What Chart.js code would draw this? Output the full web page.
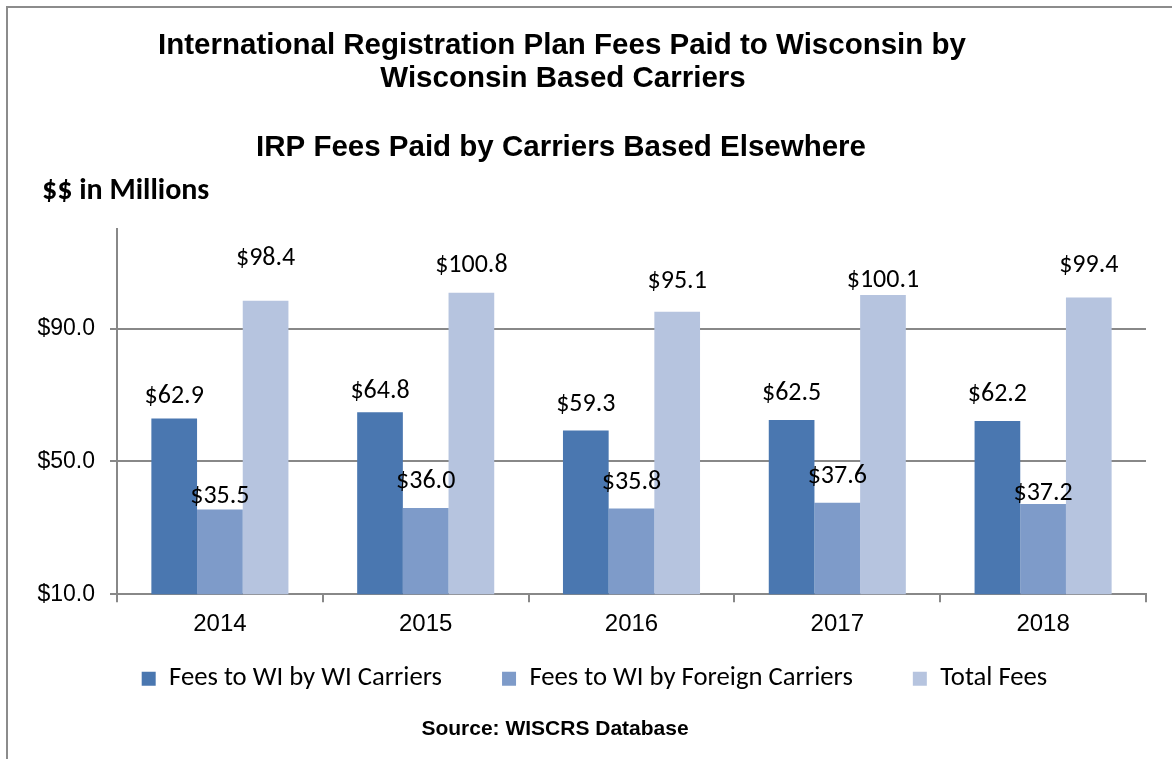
<!DOCTYPE html>
<html>
<head>
<meta charset="utf-8">
<title>IRP Fees</title>
<script src="https://cdn.jsdelivr.net/npm/chart.js@4.4.1/dist/chart.umd.min.js"></script>
<style>
    html, body { margin: 0; padding: 0; background: #fff; }
    #wrap { width: 1172px; height: 759px; }
</style>
</head>
<body>
<div id="wrap"><canvas id="myChart" width="1172" height="759"></canvas></div>
<script>
// 資料
var years = ['2014', '2015', '2016', '2017', '2018'];
var wiCarriers = [62.9, 64.8, 59.3, 62.5, 62.2];
var foreignCarriers = [35.5, 36.0, 35.8, 37.6, 37.2];
var totalFees = [98.4, 100.8, 95.1, 100.1, 99.4];
var seriesNames = ['Fees to WI by WI Carriers', 'Fees to WI by Foreign Carriers', 'Total Fees'];
var yTicks = [10, 50, 90];

var titleLines = ['International Registration Plan Fees Paid to Wisconsin by', 'Wisconsin Based Carriers'];
var subTitle = 'IRP Fees Paid by Carriers Based Elsewhere';
var unitLabel = '$$ in Millions';
var sourceText = 'Source: WISCRS Database';

// label distance above each bar top, px
var labelLift = [
    [23, 22, 27, 27, 27],
    [14, 27, 27, 27, 11],
    [43, 28, 31, 16, 33]
];

var colors = ['#4a77b0', '#7e9bc9', '#b6c4df'];
var ARIAL = '"Liberation Sans", Arial, sans-serif';
var CALIBRI = 'Carlito, Calibri, Lato, sans-serif';
var GRID = '#888888';

function money(v) {
    return '$' + v.toFixed(1);
}

// 標題, 邊框, 來源
var pageText = {
    id: 'pageText',
    afterLayout: function (chart) {
        // pull the legend up under the year labels
        var lg = chart.legend;
        var h = lg.bottom - lg.top;
        lg.top = chart.chartArea.bottom + 11;
        lg.bottom = lg.top + h;
    },
    beforeDraw: function (chart) {
        var ctx = chart.ctx;
        ctx.save();
        ctx.fillStyle = '#fff';
        ctx.fillRect(0, 0, chart.width, chart.height);
        ctx.strokeStyle = '#8c8c8c';
        ctx.lineWidth = 2;
        ctx.strokeRect(7, 7, chart.width + 20, chart.height + 20);

        ctx.fillStyle = '#000';
        ctx.textBaseline = 'alphabetic';
        ctx.textAlign = 'center';
        ctx.font = 'bold 29.5px ' + ARIAL;
        ctx.fillText(titleLines[0], 562, 54);
        ctx.fillText(titleLines[1], 563, 87);
        ctx.fillText(subTitle, 561, 156);

        ctx.textAlign = 'left';
        ctx.font = 'bold 30px ' + CALIBRI;
        ctx.fillText(unitLabel, 42, 199);

        ctx.textAlign = 'center';
        ctx.font = 'bold 21px ' + ARIAL;
        ctx.fillText(sourceText, 555, 735);
        ctx.restore();
    }
};

// 數值標籤
var barLabels = {
    id: 'barLabels',
    afterDatasetsDraw: function (chart) {
        var ctx = chart.ctx;
        ctx.save();
        ctx.fillStyle = '#000';
        ctx.font = '26px ' + CALIBRI;
        ctx.textAlign = 'center';
        ctx.textBaseline = 'middle';
        chart.data.datasets.forEach(function (ds, i) {
            chart.getDatasetMeta(i).data.forEach(function (bar, j) {
                ctx.fillText(money(ds.data[j]), bar.x, bar.y - labelLift[i][j] + 1);
            });
        });
        ctx.restore();
    }
};

var seriesData = [wiCarriers, foreignCarriers, totalFees];
var datasets = [];
for (var i = 0; i != seriesData.length; i++) {
    datasets.push({
        label: seriesNames[i],
        data: seriesData[i],
        backgroundColor: colors[i],
        borderWidth: 0,
        categoryPercentage: 0.666,
        barPercentage: 1.0
    });
}

var config = {
    type: 'bar',
    data: {
        labels: years,
        datasets: datasets
    },
    options: {
        responsive: false,
        animation: false,
        devicePixelRatio: 1,
        layout: {
            padding: { top: 229, left: 30, right: 13, bottom: 26 }
        },
        plugins: {
            title: { display: false },
            tooltip: { enabled: false },
            legend: {
                position: 'bottom',
                labels: {
                    boxWidth: 14,
                    boxHeight: 14,
                    padding: 60,
                    color: '#000',
                    font: { family: CALIBRI, size: 26.7 }
                }
            }
        },
        scales: {
            x: {
                grid: {
                    drawOnChartArea: false,
                    drawTicks: true,
                    tickLength: 8,
                    color: GRID,
                    lineWidth: 2
                },
                border: { color: GRID, width: 2 },
                ticks: {
                    color: '#000',
                    padding: 8,
                    font: { family: ARIAL, size: 24 }
                },
                afterFit: function (scale) {
                    scale.height = 42;
                }
            },
            y: {
                min: 10,
                max: 120,
                grid: {
                    color: GRID,
                    lineWidth: 2,
                    tickLength: 7
                },
                border: { color: GRID, width: 2 },
                ticks: {
                    color: '#000',
                    padding: 15,
                    font: { family: ARIAL, size: 23 },
                    callback: function (v) { return money(v); }
                },
                afterBuildTicks: function (scale) {
                    scale.ticks = yTicks.map(function (v) { return { value: v }; });
                },
                afterFit: function (scale) {
                    scale.width = 87;
                }
            },
            // empty right axis, only keeps the plot edge at the right place
            y2: {
                position: 'right',
                grid: { display: false },
                border: { display: false },
                ticks: { display: false },
                afterFit: function (scale) {
                    scale.width = 13;
                }
            }
        }
    },
    plugins: [pageText, barLabels]
};

var chart = new Chart(document.getElementById('myChart'), config);
</script>
</body>
</html>
